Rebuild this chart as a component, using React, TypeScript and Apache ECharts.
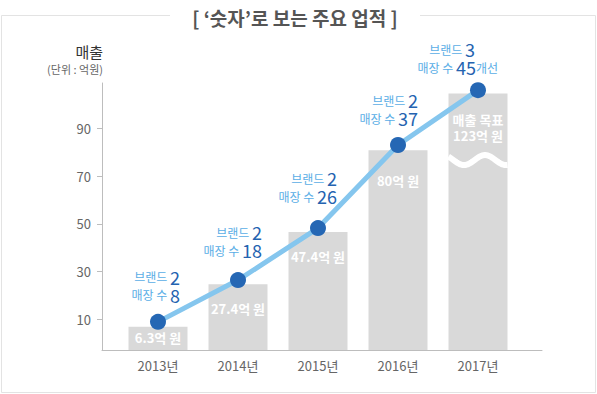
import React, { useEffect, useRef } from 'react';
import * as echarts from 'echarts';

const years = ['2013년', '2014년', '2015년', '2016년', '2017년'];
const salesLabels = ['6.3억 원', '27.4억 원', '47.4억 원', '80억 원', '매출 목표\n123억 원'];
const barHeights = [6.8, 24.7, 46.6, 80.8, 104.6];
const linePoints = [8.9, 26.4, 48.2, 83.0, 106.0];
const brands = [2, 2, 2, 2, 3];
const stores = [8, 18, 26, 37, 45];
const storeSuffix = ['', '', '', '', '개선'];
const yTicks = [10, 30, 50, 70, 90];
const breakIndex = 4;
const breakValue = 76.7;

const FONT = '"Noto Sans CJK KR", "Noto Sans", sans-serif';

export default function App() {
  const ref = useRef<HTMLDivElement>(null);
  useEffect(() => {
    document.body.style.margin = '0';
    if (!ref.current) return;
    const chart = echarts.init(ref.current, null, { renderer: 'svg' });

    const barLabelDy = [11, 24, 25, 30, 34];
    const barW = 59;
    const lineLabelOffset: number[][] = [
      [22, -5],
      [24, -8],
      [19, -10],
      [20, -5],
      [20, -1],
    ];

    const option: any = {
      animation: false,
      backgroundColor: '#ffffff',
      textStyle: { fontFamily: FONT },
      grid: { left: 102, right: 55, top: 83, bottom: 44 },
      xAxis: {
        type: 'value',
        min: -0.7,
        max: 4.8,
        splitLine: { show: false },
        axisTick: { show: false },
        axisLine: { show: true, onZero: false, lineStyle: { color: '#bdbdbd', width: 1 } },
        axisLabel: {
          customValues: [0, 1, 2, 3, 4],
          formatter: (v: number) => years[Math.round(v)] ?? '',
          color: '#666',
          fontSize: 13,
          margin: 9,
          fontFamily: FONT,
        },
      },
      yAxis: {
        type: 'value',
        min: -2.9,
        max: 109,
        splitLine: { show: false },
        axisLine: { show: true, onZero: false, lineStyle: { color: '#bdbdbd', width: 1 } },
        axisTick: { show: true, length: 5, customValues: yTicks, lineStyle: { color: '#bdbdbd' } },
        axisLabel: { customValues: yTicks, color: '#666', fontSize: 13, margin: 11, fontFamily: FONT },
      },
      graphic: [
        {
          type: 'rect',
          silent: true,
          shape: { x: 1.5, y: 15.5, width: 594, height: 377 },
          style: { fill: 'none', stroke: '#e3e3e3', lineWidth: 1 },
          z: -10,
        },
        {
          type: 'rect',
          silent: true,
          shape: { x: 170, y: 4, width: 250, height: 24 },
          style: { fill: '#ffffff' },
          z: -5,
        },
        {
          type: 'text',
          x: 295,
          y: 17,
          style: {
            text: "[ ‘숫자’로 보는 주요 업적 ]",
            fill: '#555555',
            font: `bold 19px ${FONT}`,
            textAlign: 'center',
            textVerticalAlign: 'middle',
          },
        },
        {
          type: 'text',
          x: 103,
          y: 51,
          style: {
            text: '매출',
            fill: '#333333',
            font: `15px ${FONT}`,
            textAlign: 'right',
            textVerticalAlign: 'middle',
          },
        },
        {
          type: 'text',
          x: 103,
          y: 69,
          style: {
            text: '(단위 : 억원)',
            fill: '#666666',
            font: `11px ${FONT}`,
            textAlign: 'right',
            textVerticalAlign: 'middle',
          },
        },
      ],
      series: [
        {
          type: 'custom',
          data: barHeights.map((v, i) => [i, v]),
          z: 1,
          renderItem: (params: any, api: any) => {
            const i = params.dataIndex;
            const top = api.coord([api.value(0), api.value(1)]);
            const bottomY = params.coordSys.y + params.coordSys.height;
            return {
              type: 'rect',
              shape: { x: top[0] - barW / 2, y: top[1], width: barW, height: bottomY - top[1] },
              style: { fill: '#d9d9d9' },
              textContent: {
                style: {
                  text: salesLabels[i],
                  fill: '#ffffff',
                  fontSize: 13,
                  fontWeight: 'bold',
                  fontFamily: FONT,
                  lineHeight: 16,
                  align: 'center',
                  verticalAlign: 'middle',
                },
              },
              textConfig: { position: [barW / 2, barLabelDy[i]] },
            };
          },
        },
        {
          type: 'custom',
          data: [[breakIndex, breakValue]],
          z: 3,
          renderItem: (params: any, api: any) => {
            const c = api.coord([api.value(0), api.value(1)]);
            const halfW = barW / 2;
            const pts: number[][] = [];
            for (let x = -halfW; x <= halfW + 0.01; x += 1) {
              pts.push([c[0] + x, c[1] - 5 * Math.cos((2 * Math.PI * (x - 7)) / 42)]);
            }
            return {
              type: 'polyline',
              shape: { points: pts },
              style: { stroke: '#ffffff', lineWidth: 6, fill: 'none' },
            };
          },
        },
        {
          type: 'line',
          data: linePoints.map((v, i) => ({
            value: [i, v],
            label: { offset: lineLabelOffset[i] },
          })),
          symbol: 'circle',
          symbolSize: 16,
          lineStyle: { color: '#85c6ee', width: 5 },
          itemStyle: { color: '#2567b4' },
          z: 5,
          label: {
            show: true,
            position: 'top',
            align: 'right',
            verticalAlign: 'bottom',
            formatter: (p: any) => {
              const i = p.dataIndex;
              const sp = storeSuffix[i] ? '{sp|}' : '';
              const suf = storeSuffix[i] ? `{s|${storeSuffix[i]}}` : '';
              return `{a|브랜드 }{n|${brands[i]}}${sp}\n{a|매장 수 }{n|${stores[i]}}${suf}`;
            },
            rich: {
              a: { color: '#5aaee6', fontSize: 12, lineHeight: 18, fontFamily: FONT },
              n: { color: '#2463b0', fontSize: 18, lineHeight: 18, fontFamily: FONT },
              s: { color: '#5aaee6', fontSize: 12, lineHeight: 18, fontFamily: FONT },
              sp: { width: 23, lineHeight: 18 },
            },
          },
        },
      ],
    };
    chart.setOption(option);
    return () => chart.dispose();
  }, []);
  return <div ref={ref} style={{ width: 597, height: 394 }} />;
}
